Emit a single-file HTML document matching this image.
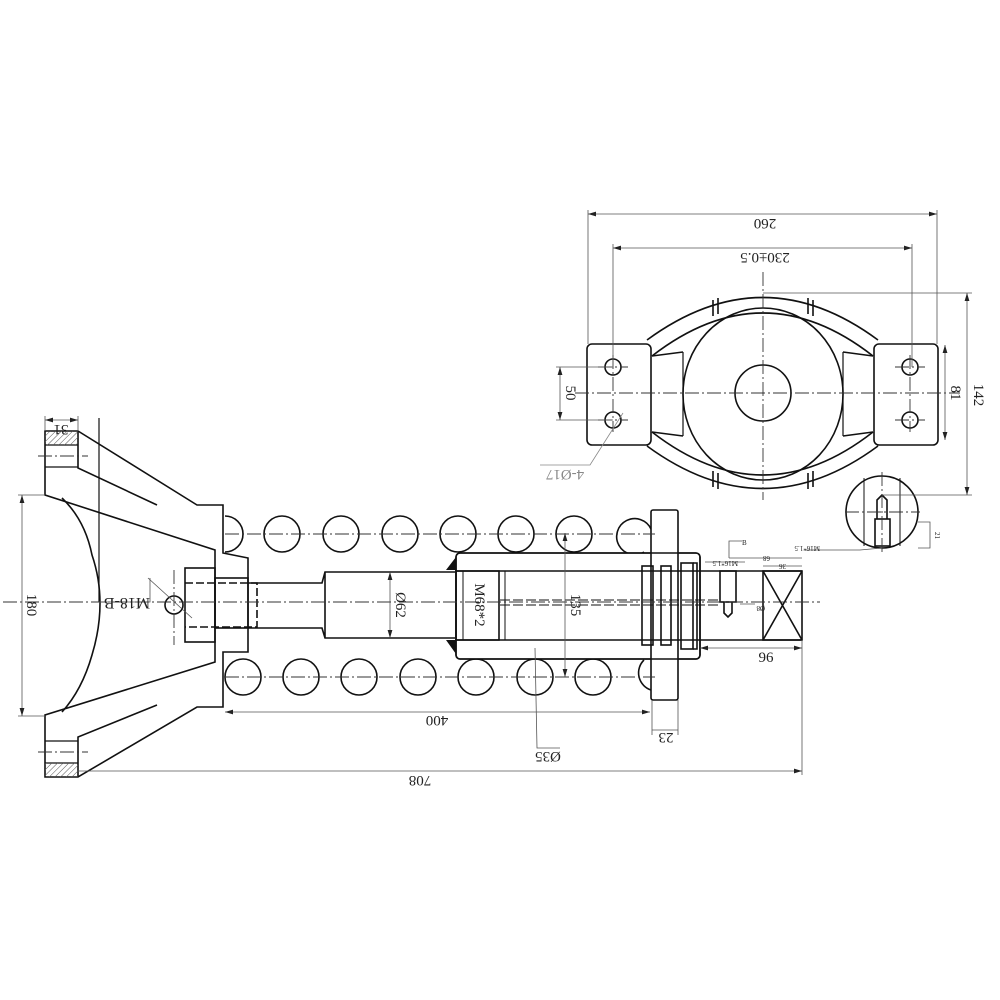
<!DOCTYPE html>
<html><head><meta charset="utf-8"><style>
html,body{margin:0;padding:0;background:#fff}
svg{display:block}
text{font-family:"Liberation Serif",serif;fill:#222}
</style></head><body>
<svg width="1000" height="1000" viewBox="0 0 1000 1000" xmlns="http://www.w3.org/2000/svg">
<defs>
<pattern id="h" width="4" height="4" patternUnits="userSpaceOnUse" patternTransform="rotate(45)"><line x1="0" y1="0" x2="0" y2="4" stroke="#555" stroke-width="1"/></pattern>
<marker id="a" viewBox="0 0 10 6" refX="10" refY="3" markerWidth="10" markerHeight="6" orient="auto-start-reverse"><path d="M0,0 L10,3 L0,6z" fill="#222"/></marker>
</defs>
<g fill="none" stroke="#111" stroke-width="1.6">
<rect x="587" y="344" width="64" height="101" rx="5"/>
<rect x="874" y="344" width="64" height="101" rx="5"/>
<ellipse cx="763" cy="394" rx="80" ry="86"/>
<circle cx="763" cy="393" r="28"/>
<path d="M647,340 Q763,255 878,340"/>
<path d="M652,356 Q763,270 873,356"/>
<path d="M647,446 Q763,531 878,446"/>
<path d="M652,432 Q763,518 873,432"/>
<path d="M652,356 L683,352 M652,432 L683,436 M873,356 L843,352 M873,432 L843,436"/>
<path d="M683,352 L683,436 M843,352 L843,436" stroke-width="1.2"/>
<path d="M713,300 L713,316 M718,298 L718,314 M808,298 L808,314 M813,300 L813,316"/>
<path d="M713,487 L713,471 M718,489 L718,473 M808,489 L808,473 M813,487 L813,471"/>
<circle cx="613" cy="367" r="8"/><circle cx="613" cy="420" r="8"/>
<circle cx="910" cy="367" r="8"/><circle cx="910" cy="420" r="8"/>
<circle cx="882" cy="512" r="36"/>
<path d="M864,478 L864,546 M900,478 L900,546" stroke-width="1"/>
<rect x="875" y="519" width="15" height="27"/>
<path d="M877,519 L877,500 L882,495 L887,500 L887,519"/>
<path d="M45,431 L78,431 L197,505 L223,505 L223,553 L248,558 L248,652 L223,652 L223,707 L197,707 L78,777 L45,777 L45,715 L215,662 L215,550 L45,495 Z"/>
<path d="M78,431 L78,468 L157,505 M78,777 L78,737 L157,705"/>
<path d="M45,445 L78,445 M45,467 L78,467 M45,763 L78,763 M45,741 L78,741" stroke-width="1.2"/>
<rect x="45" y="431" width="33" height="14" fill="url(#h)" stroke="none"/>
<rect x="45" y="763" width="33" height="14" fill="url(#h)" stroke="none"/>
<path d="M62,498 Q85,520 92,555 Q108,602 92,655 Q82,690 62,712"/>
<path d="M99,418 L99,602" stroke-width="1.2"/>
<rect x="185" y="568" width="30" height="74"/>
<rect x="215" y="578" width="33" height="50"/>
<path d="M185,583 L257,583 L257,627 L185,627" stroke-dasharray="8,3"/>
<path d="M248,583 L322,583 L325,572 L455,572 M248,628 L322,628 L325,638 L455,638 M325,572 L325,638"/>
<circle cx="174" cy="605" r="9"/>
<path d="M225,516 A18,18 0 0 1 225,552"/>
<circle cx="282" cy="534" r="18"/><circle cx="341" cy="534" r="18"/><circle cx="400" cy="534" r="18"/><circle cx="458" cy="534" r="18"/><circle cx="516" cy="534" r="18"/><circle cx="574" cy="534" r="18"/>
<path d="M651,529 A18,18 0 1 0 644,552"/>
<circle cx="243" cy="677" r="18"/><circle cx="301" cy="677" r="18"/><circle cx="359" cy="677" r="18"/><circle cx="418" cy="677" r="18"/><circle cx="476" cy="677" r="18"/><circle cx="535" cy="677" r="18"/><circle cx="593" cy="677" r="18"/>
<path d="M644,660 A18,18 0 0 0 651,690"/>
<rect x="456" y="553" width="244" height="106" rx="4" fill="#fff"/>
<rect x="651" y="510" width="27" height="190" rx="2" fill="#fff"/>
<rect x="456" y="553" width="244" height="106" rx="4"/>
<path d="M456,571 L802,571 M456,640 L802,640"/>
<rect x="456" y="571" width="43" height="69"/>
<path d="M463,571 L463,640 M505,571 L505,640" stroke-width="1"/>
<path d="M500,600 L720,600 M500,605 L720,605" stroke-dasharray="10,3" stroke-width="1.1"/>
<rect x="642" y="566" width="11" height="79"/>
<rect x="661" y="566" width="10" height="79"/>
<rect x="681" y="563" width="12" height="86"/>
<path d="M693,563 L697,563 L697,649 L693,649"/>
<rect x="720" y="571" width="16" height="31"/>
<path d="M724,602 L724,613 L728,617 L732,613 L732,602"/>
<rect x="763" y="571" width="39" height="69"/>
<path d="M763,571 L802,640 M802,571 L763,640"/>
</g>
<path d="M456,570 L446,570 L456,557 Z M456,640 L446,640 L456,654 Z" fill="#111"/>
<g stroke="#333" stroke-width="0.9" stroke-dasharray="14,3,2,3" fill="none">
<path d="M3,602 L820,602"/>
<path d="M575,393 L960,393"/>
<path d="M763,272 L763,500"/>
<path d="M225,534 L655,534 M225,677 L655,677"/>
<path d="M598,367 L628,367 M598,420 L628,420 M895,367 L925,367 M895,420 L925,420 M613,355 L613,432 M910,355 L910,432"/>
<path d="M38,456 L88,456 M38,752 L88,752"/>
<path d="M174,570 L174,645"/>
<path d="M845,512 L920,512 M882,472 L882,552"/>
</g>
<g stroke="#555" stroke-width="0.8" fill="none">
<path d="M588,214 L937,214" marker-start="url(#a)" marker-end="url(#a)"/>
<path d="M588,210 L588,344 M937,210 L937,344"/>
<path d="M613,248 L912,248" marker-start="url(#a)" marker-end="url(#a)"/>
<path d="M613,244 L613,367 M912,244 L912,367"/>
<path d="M967,293 L967,495" marker-start="url(#a)" marker-end="url(#a)"/>
<path d="M763,293 L972,293 M882,495 L972,495"/>
<path d="M945,345 L945,440" marker-start="url(#a)" marker-end="url(#a)"/>
<path d="M560,367 L560,420" marker-start="url(#a)" marker-end="url(#a)"/>
<path d="M556,367 L613,367 M556,420 L613,420"/>
<path d="M623,413 L590,465 L540,465" stroke="#888"/>
<path d="M22,495 L22,716" marker-start="url(#a)" marker-end="url(#a)"/>
<path d="M18,495 L45,495 M18,716 L45,716"/>
<path d="M45,420 L78,420" marker-start="url(#a)" marker-end="url(#a)"/>
<path d="M45,416 L45,431 M78,416 L78,431"/>
<path d="M225,712 L650,712" marker-start="url(#a)" marker-end="url(#a)"/>
<path d="M78,771 L802,771" marker-end="url(#a)"/>
<path d="M802,640 L802,775 M652,700 L652,735 M678,700 L678,735"/>
<path d="M652,730 L678,730"/>
<path d="M700,648 L802,648" marker-start="url(#a)" marker-end="url(#a)"/>
<path d="M565,533 L565,677" marker-start="url(#a)" marker-end="url(#a)"/>
<path d="M390,572 L390,638" marker-start="url(#a)" marker-end="url(#a)"/>
<path d="M535,648 L537,748 L560,748"/>
<path d="M148,578 L192,618"/>
<path d="M99,602 L150,602 L150,578"/>
<path d="M729,558 L802,558 M763,566 L802,566 M705,562 L745,562 M729,558 L729,541 L742,541"/>
<path d="M882,548 L860,550 L805,550"/>
<path d="M918,522 L930,522 L930,548 L918,548 M740,604 L755,604"/>
</g>
<g font-size="15">
<text transform="translate(765,219) rotate(180)" text-anchor="middle">260</text>
<text transform="translate(765,253) rotate(180)" text-anchor="middle">230±0.5</text>
<text transform="translate(565,470) rotate(180)" text-anchor="middle" style="fill:#888">4-Ø17</text>
<text transform="translate(566,393) rotate(90)" text-anchor="middle">50</text>
<text transform="translate(951,393) rotate(90)" text-anchor="middle">81</text>
<text transform="translate(974,395) rotate(90)" text-anchor="middle">142</text>
<text transform="translate(27,605) rotate(90)" text-anchor="middle">180</text>
<text transform="translate(61,425) rotate(180)" text-anchor="middle">31</text>
<text transform="translate(127,598) rotate(180)" text-anchor="middle" font-size="16">M18-B</text>
<text transform="translate(396,605) rotate(90)" text-anchor="middle">Ø62</text>
<text transform="translate(475,605) rotate(90)" text-anchor="middle">M68*2</text>
<text transform="translate(571,605) rotate(90)" text-anchor="middle">135</text>
<text transform="translate(437,716) rotate(180)" text-anchor="middle">400</text>
<text transform="translate(420,776) rotate(180)" text-anchor="middle">708</text>
<text transform="translate(666,733) rotate(180)" text-anchor="middle">23</text>
<text transform="translate(548,752) rotate(180)" text-anchor="middle">Ø35</text>
<text x="766" y="662" text-anchor="middle">96</text>
</g>
<g font-size="7">
<text transform="translate(820,546) rotate(180)">M16*1.5</text>
<text transform="translate(738,561) rotate(180)">M16*1.5</text>
<text transform="translate(770,556) rotate(180)">68</text>
<text transform="translate(786,564) rotate(180)">36</text>
<text x="742" y="545">B</text>
<text transform="translate(765,606) rotate(180)">Ø8</text>
<text transform="translate(935,532) rotate(90)">21</text>
</g>
</svg>
</body></html>
